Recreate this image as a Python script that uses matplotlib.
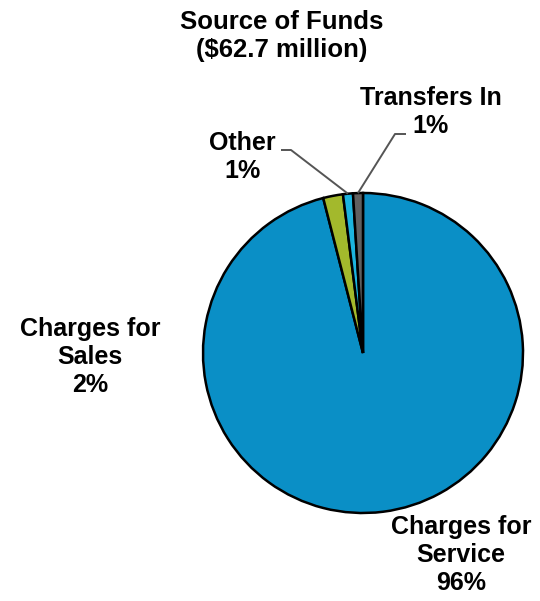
import numpy as np
import matplotlib

matplotlib.use("Agg")
import matplotlib.pyplot as plt

plt.rcParams["font.family"] = ["Liberation Sans", "DejaVu Sans"]

# Source of funds, share of $62.7 million
categories = ["Charges for\nService", "Charges for\nSales", "Other", "Transfers In"]
shares = [96, 2, 1, 1]
colours = ["#0A8FC6", "#A3B92C", "#1CB4DE", "#606060"]

W, H = 540, 601
CX, CY, R = 363, 353, 160


def fy(py):
    # page pixels run downwards, axes units run upwards
    return H - py


fig = plt.figure(figsize=(W / 100, H / 100), dpi=100)
ax = fig.add_axes([0, 0, 1, 1])

wedges, _ = ax.pie(
    shares,
    colors=colours,
    startangle=90,
    counterclock=False,
    center=(CX, fy(CY)),
    radius=R,
    wedgeprops={"edgecolor": "black", "linewidth": 1.8},
)
ax.set_xlim(0, W)
ax.set_ylim(0, H)
ax.set_aspect("equal")
ax.axis("off")

txt = dict(fontsize=18, fontweight="bold", ha="center", va="center",
           linespacing=1.2)

ax.text(282, fy(36), "Source of Funds\n($62.7 million)", fontsize=18.5,
        fontweight="bold", ha="center", va="center", linespacing=1.2)

labels = {
    0: (461, 555),
    1: (90, 357),
    2: (242, 157),
    3: (431, 112),
}
for i, (x, y) in labels.items():
    ax.text(x, fy(y), f"{categories[i]}\n{shares[i]}%", **txt)

# leader lines for the two thin slices
elbows = {2: [(281, 150), (291, 150)], 3: [(406, 134), (395, 134)]}
for i, pts in elbows.items():
    w = wedges[i]
    mid = np.deg2rad((w.theta1 + w.theta2) / 2)
    ex = CX + R * np.cos(mid)
    ey = fy(CY) + R * np.sin(mid)
    xs = [p[0] for p in pts] + [ex]
    ys = [fy(p[1]) for p in pts] + [ey]
    ax.plot(xs, ys, color="#555555", lw=1.4, solid_capstyle="butt")

fig.savefig("out.png", dpi=100)
